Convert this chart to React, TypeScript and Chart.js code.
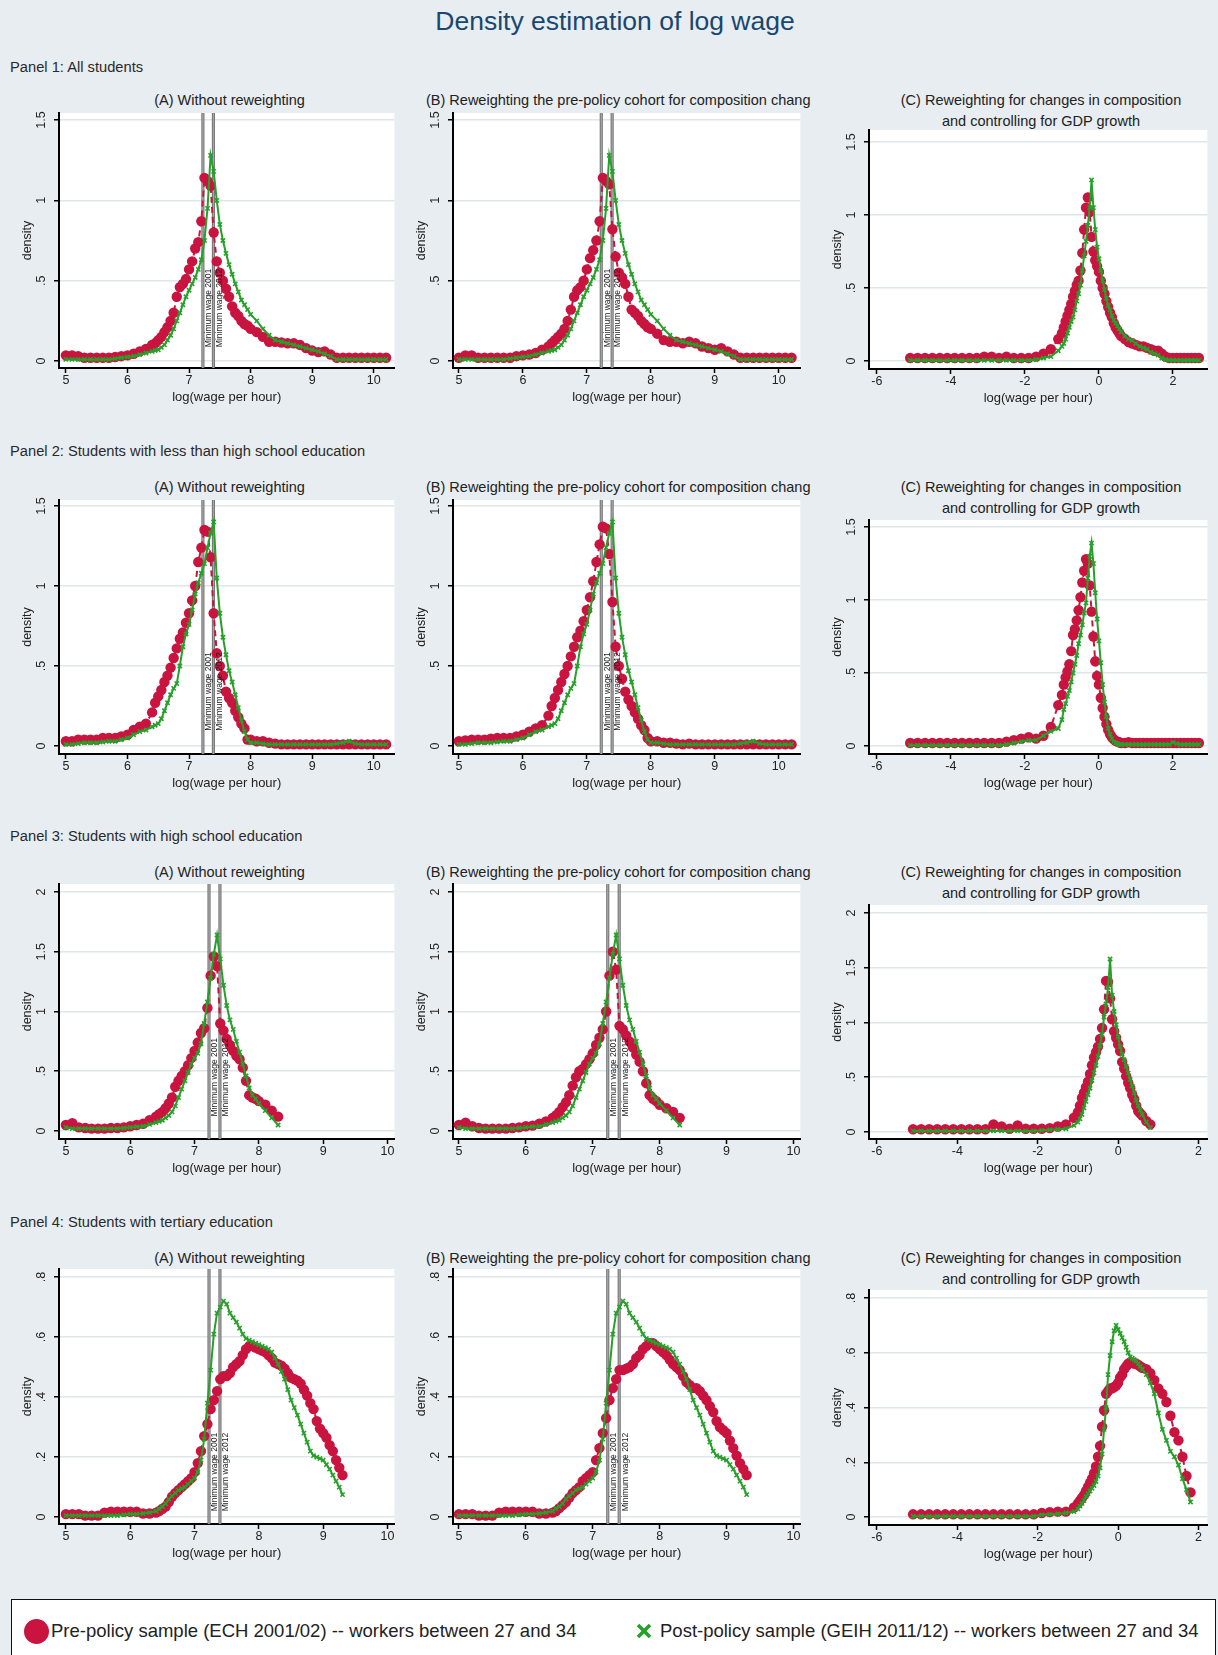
import React, { useEffect, useRef } from "react";
import { Chart, registerables } from "chart.js";

Chart.register(...registerables);

const FONT = '"Liberation Sans", Arial, Helvetica, sans-serif';
Chart.defaults.font.family = FONT;

// ---------------------------------------------------------------------------
// Evaluation grids (log wage per hour)
// ---------------------------------------------------------------------------
const xWage = [
  5.0, 5.1, 5.2, 5.3, 5.4, 5.5, 5.6, 5.7, 5.8, 5.9, 6.0, 6.1, 6.2, 6.3,
  6.4, 6.45, 6.5, 6.55, 6.6, 6.65, 6.7, 6.75, 6.8, 6.85, 6.9, 6.95, 7.0, 7.05, 7.1, 7.15, 7.2, 7.25, 7.3, 7.35, 7.4, 7.45, 7.5, 7.55, 7.6, 7.65, 7.7, 7.75, 7.8, 7.85, 7.9, 7.95, 8.0,
  8.1, 8.2, 8.3, 8.4, 8.5, 8.6, 8.7, 8.8, 8.9, 9.0, 9.1, 9.2, 9.3, 9.4, 9.5, 9.6, 9.7, 9.8, 9.9, 10.0, 10.1, 10.2,
];
const xWageHS = [
  5.0, 5.1, 5.2, 5.3, 5.4, 5.5, 5.6, 5.7, 5.8, 5.9, 6.0, 6.1, 6.2, 6.3,
  6.4, 6.45, 6.5, 6.55, 6.6, 6.65, 6.7, 6.75, 6.8, 6.85, 6.9, 6.95, 7.0, 7.05, 7.1, 7.15, 7.2, 7.25, 7.3, 7.35, 7.4, 7.45, 7.5, 7.55, 7.6, 7.65, 7.7, 7.75, 7.8, 7.85, 7.9, 7.95, 8.0,
  8.1, 8.2, 8.3,
];
const xWageTer = [
  5.0, 5.1, 5.2, 5.3, 5.4, 5.5, 5.6, 5.7, 5.8, 5.9, 6.0, 6.1, 6.2, 6.3,
  6.4, 6.45, 6.5, 6.55, 6.6, 6.65, 6.7, 6.75, 6.8, 6.85, 6.9, 6.95, 7.0, 7.05, 7.1, 7.15, 7.2, 7.25, 7.3, 7.35, 7.4, 7.45, 7.5, 7.55, 7.6, 7.65, 7.7, 7.75, 7.8, 7.85, 7.9, 7.95, 8.0,
  8.05, 8.1, 8.15, 8.2, 8.25, 8.3, 8.35, 8.4, 8.45, 8.5, 8.55, 8.6, 8.65, 8.7, 8.75, 8.8, 8.85, 8.9, 8.95, 9.0, 9.05, 9.1, 9.15, 9.2, 9.25, 9.3,
];
// Grids for the GDP-adjusted log wage (panel C)
const xAdj = [
  -5.1, -4.9, -4.7, -4.5, -4.3, -4.1, -3.9, -3.7, -3.5, -3.3, -3.1, -2.9, -2.7, -2.5, -2.3, -2.1, -1.9, -1.7, -1.5, -1.3, -1.1,
  -1.0, -0.95, -0.9, -0.85, -0.8, -0.75, -0.7, -0.65, -0.6, -0.55, -0.5, -0.45, -0.4, -0.35, -0.3, -0.25, -0.2, -0.15, -0.1, -0.05, 0.0, 0.05, 0.1, 0.15, 0.2, 0.25, 0.3, 0.35, 0.4, 0.45, 0.5, 0.55, 0.6,
  0.7, 0.8, 0.9, 1.0, 1.1, 1.2, 1.3, 1.4, 1.5, 1.6, 1.7, 1.8, 1.9, 2.0, 2.1, 2.2, 2.3, 2.4, 2.5, 2.6, 2.7,
];
const xAdjHS = [
  -5.1, -4.9, -4.7, -4.5, -4.3, -4.1, -3.9, -3.7, -3.5, -3.3, -3.1, -2.9, -2.7, -2.5, -2.3, -2.1, -1.9, -1.7, -1.5, -1.3, -1.1,
  -1.0, -0.95, -0.9, -0.85, -0.8, -0.75, -0.7, -0.65, -0.6, -0.55, -0.5, -0.45, -0.4, -0.35, -0.3, -0.25, -0.2, -0.15, -0.1, -0.05, 0.0, 0.05, 0.1, 0.15, 0.2, 0.25, 0.3, 0.35, 0.4, 0.45, 0.5, 0.55, 0.6,
  0.7, 0.8,
];
const xAdjTer = [
  -5.1, -4.9, -4.7, -4.5, -4.3, -4.1, -3.9, -3.7, -3.5, -3.3, -3.1, -2.9, -2.7, -2.5, -2.3, -2.1, -1.9, -1.7, -1.5, -1.3, -1.1,
  -1.0, -0.95, -0.9, -0.85, -0.8, -0.75, -0.7, -0.65, -0.6, -0.55, -0.5, -0.45, -0.4, -0.35, -0.3, -0.25, -0.2, -0.15, -0.1, -0.05, 0.0, 0.05, 0.1, 0.15, 0.2, 0.25, 0.3, 0.35, 0.4, 0.45, 0.5, 0.55, 0.6,
  0.7, 0.8, 0.9, 1.0, 1.1, 1.2, 1.3, 1.4, 1.5, 1.6, 1.7, 1.8,
];

// ---------------------------------------------------------------------------
// Panel 1: all students
// ---------------------------------------------------------------------------
const preAll = [
  0.035, 0.035, 0.03, 0.02, 0.02, 0.02, 0.02, 0.02, 0.025, 0.03, 0.035, 0.045, 0.06, 0.075,
  0.10, 0.11, 0.13, 0.15, 0.18, 0.21, 0.25, 0.30, 0.40, 0.46, 0.48, 0.51, 0.57, 0.62, 0.70, 0.74, 0.87, 1.14, 1.12, 1.09, 0.80, 0.62, 0.55, 0.50, 0.45, 0.40, 0.34, 0.30, 0.28, 0.25, 0.23, 0.22, 0.20,
  0.18, 0.15, 0.12, 0.12, 0.115, 0.11, 0.11, 0.10, 0.08, 0.065, 0.055, 0.06, 0.04, 0.02, 0.02, 0.02, 0.02, 0.02, 0.02, 0.02, 0.02, 0.02,
];
const preAllReweighted = [
  0.02, 0.035, 0.035, 0.02, 0.02, 0.02, 0.02, 0.02, 0.02, 0.03, 0.035, 0.04, 0.05, 0.07,
  0.09, 0.11, 0.13, 0.15, 0.17, 0.20, 0.25, 0.32, 0.40, 0.44, 0.46, 0.50, 0.57, 0.64, 0.69, 0.75, 0.87, 1.14, 1.12, 1.10, 0.82, 0.65, 0.55, 0.52, 0.48, 0.40, 0.32, 0.30, 0.28, 0.25, 0.23, 0.21, 0.20,
  0.17, 0.13, 0.12, 0.12, 0.11, 0.12, 0.11, 0.09, 0.08, 0.07, 0.08, 0.06, 0.04, 0.02, 0.02, 0.02, 0.02, 0.02, 0.02, 0.02, 0.02, 0.02,
];
const postAll = [
  0.01, 0.01, 0.01, 0.01, 0.01, 0.01, 0.01, 0.01, 0.015, 0.02, 0.025, 0.03, 0.04, 0.05,
  0.06, 0.065, 0.07, 0.085, 0.10, 0.13, 0.16, 0.20, 0.25, 0.30, 0.35, 0.40, 0.44, 0.48, 0.52, 0.57, 0.63, 0.75, 0.95, 1.28, 1.18, 1.00, 0.85, 0.75, 0.67, 0.60, 0.54, 0.48, 0.43, 0.38, 0.35, 0.32, 0.29,
  0.25, 0.20, 0.16, 0.13, 0.12, 0.11, 0.10, 0.09, 0.08, 0.07, 0.06, 0.045, 0.03, 0.01, 0.01, 0.01, 0.01, 0.01, 0.01, 0.01, 0.01, 0.01,
];
const preAllAdj = [
  0.02, 0.02, 0.02, 0.02, 0.02, 0.02, 0.02, 0.02, 0.02, 0.02, 0.03, 0.03, 0.02, 0.03, 0.02, 0.02, 0.02, 0.03, 0.05, 0.08, 0.15,
  0.19, 0.23, 0.27, 0.31, 0.35, 0.39, 0.44, 0.48, 0.52, 0.55, 0.62, 0.74, 0.90, 1.05, 1.12, 1.02, 0.85, 0.75, 0.69, 0.65, 0.61, 0.55, 0.50, 0.46, 0.41, 0.37, 0.33, 0.30, 0.26, 0.23, 0.21, 0.19, 0.17,
  0.15, 0.13, 0.12, 0.11, 0.10, 0.10, 0.09, 0.08, 0.07, 0.07, 0.05, 0.03, 0.02, 0.02, 0.02, 0.02, 0.02, 0.02, 0.02, 0.02, 0.02,
];
const postAllAdj = [
  0.005, 0.005, 0.005, 0.005, 0.005, 0.005, 0.005, 0.005, 0.005, 0.005, 0.005, 0.005, 0.005, 0.005, 0.005, 0.005, 0.005, 0.01, 0.02, 0.03, 0.07,
  0.10, 0.12, 0.15, 0.19, 0.23, 0.27, 0.30, 0.35, 0.41, 0.46, 0.52, 0.62, 0.72, 0.82, 0.93, 1.05, 1.24, 1.05, 0.90, 0.78, 0.70, 0.62, 0.55, 0.49, 0.43, 0.38, 0.35, 0.31, 0.28, 0.26, 0.24, 0.22, 0.20,
  0.17, 0.15, 0.14, 0.12, 0.10, 0.09, 0.08, 0.06, 0.05, 0.04, 0.02, 0.01, 0.005, 0.005, 0.005, 0.005, 0.005, 0.005, 0.005, 0.005, 0.005,
];

// ---------------------------------------------------------------------------
// Panel 2: less than high school
// ---------------------------------------------------------------------------
const preLHS = [
  0.03, 0.03, 0.04, 0.04, 0.04, 0.04, 0.05, 0.05, 0.05, 0.06, 0.07, 0.10, 0.12, 0.14,
  0.21, 0.27, 0.31, 0.35, 0.40, 0.44, 0.49, 0.55, 0.61, 0.67, 0.71, 0.77, 0.83, 0.91, 1.00, 1.15, 1.24, 1.35, 1.34, 1.18, 0.83, 0.58, 0.50, 0.44, 0.34, 0.30, 0.27, 0.22, 0.18, 0.14, 0.11, 0.04, 0.04,
  0.03, 0.03, 0.02, 0.015, 0.01, 0.01, 0.01, 0.01, 0.01, 0.01, 0.01, 0.01, 0.01, 0.01, 0.01, 0.01, 0.01, 0.01, 0.01, 0.01, 0.01, 0.01,
];
const preLHSReweighted = [
  0.03, 0.035, 0.04, 0.04, 0.04, 0.045, 0.05, 0.05, 0.05, 0.06, 0.07, 0.09, 0.11, 0.13,
  0.19, 0.25, 0.30, 0.35, 0.40, 0.45, 0.50, 0.56, 0.62, 0.68, 0.72, 0.78, 0.85, 0.93, 1.03, 1.15, 1.26, 1.37, 1.36, 1.20, 0.90, 0.62, 0.50, 0.42, 0.34, 0.29, 0.25, 0.21, 0.17, 0.13, 0.10, 0.05, 0.03,
  0.03, 0.02, 0.02, 0.015, 0.01, 0.015, 0.01, 0.01, 0.01, 0.01, 0.01, 0.01, 0.01, 0.01, 0.01, 0.01, 0.01, 0.01, 0.01, 0.01, 0.01, 0.01,
];
const postLHS = [
  0.01, 0.01, 0.015, 0.02, 0.02, 0.02, 0.025, 0.03, 0.03, 0.04, 0.05, 0.07, 0.09, 0.10,
  0.12, 0.13, 0.14, 0.17, 0.22, 0.27, 0.32, 0.36, 0.39, 0.50, 0.62, 0.70, 0.76, 0.85, 0.95, 1.02, 1.08, 1.14, 1.24, 1.33, 1.40, 1.05, 0.83, 0.68, 0.57, 0.47, 0.40, 0.32, 0.24, 0.16, 0.09, 0.04, 0.02,
  0.02, 0.015, 0.01, 0.01, 0.01, 0.01, 0.01, 0.01, 0.01, 0.01, 0.01, 0.01, 0.01, 0.015, 0.02, 0.03, 0.015, 0.01, 0.01, 0.01, 0.01, 0.01,
];
const preLHSAdj = [
  0.02, 0.02, 0.02, 0.02, 0.02, 0.02, 0.02, 0.02, 0.02, 0.02, 0.02, 0.02, 0.02, 0.03, 0.04, 0.05, 0.06, 0.05, 0.07, 0.13, 0.28,
  0.35, 0.42, 0.47, 0.51, 0.56, 0.65, 0.76, 0.80, 0.86, 0.93, 1.02, 1.12, 1.20, 1.28, 1.25, 1.10, 0.92, 0.75, 0.58, 0.48, 0.42, 0.33, 0.26, 0.20, 0.15, 0.11, 0.08, 0.06, 0.045, 0.035, 0.03, 0.025, 0.02,
  0.02, 0.025, 0.02, 0.02, 0.02, 0.02, 0.02, 0.02, 0.02, 0.02, 0.02, 0.02, 0.02, 0.02, 0.02, 0.02, 0.02, 0.02, 0.02, 0.02, 0.02,
];
const postLHSAdj = [
  0.005, 0.005, 0.005, 0.005, 0.005, 0.005, 0.005, 0.005, 0.005, 0.005, 0.005, 0.005, 0.005, 0.01, 0.02, 0.03, 0.04, 0.04, 0.07, 0.10, 0.12,
  0.18, 0.25, 0.29, 0.34, 0.38, 0.44, 0.50, 0.56, 0.62, 0.70, 0.76, 0.83, 0.91, 0.98, 1.15, 1.30, 1.39, 1.25, 1.05, 0.87, 0.72, 0.57, 0.42, 0.30, 0.20, 0.12, 0.08, 0.05, 0.03, 0.02, 0.015, 0.01, 0.01,
  0.01, 0.01, 0.01, 0.01, 0.01, 0.01, 0.01, 0.01, 0.01, 0.01, 0.01, 0.01, 0.01, 0.025, 0.015, 0.01, 0.01, 0.01, 0.01, 0.01, 0.01,
];

// ---------------------------------------------------------------------------
// Panel 3: high school
// ---------------------------------------------------------------------------
const preHS = [
  0.05, 0.065, 0.03, 0.025, 0.02, 0.02, 0.02, 0.025, 0.025, 0.03, 0.04, 0.05, 0.06, 0.09,
  0.12, 0.14, 0.16, 0.19, 0.23, 0.28, 0.37, 0.42, 0.46, 0.50, 0.55, 0.61, 0.67, 0.74, 0.82, 0.86, 1.03, 1.30, 1.46, 1.38, 0.90, 0.84, 0.77, 0.72, 0.67, 0.63, 0.60, 0.53, 0.42, 0.30, 0.28, 0.27, 0.25,
  0.22, 0.17, 0.12,
];
const preHSReweighted = [
  0.05, 0.07, 0.04, 0.025, 0.02, 0.02, 0.02, 0.02, 0.025, 0.03, 0.04, 0.045, 0.06, 0.08,
  0.11, 0.13, 0.16, 0.20, 0.24, 0.30, 0.38, 0.45, 0.50, 0.52, 0.56, 0.60, 0.65, 0.72, 0.78, 0.85, 1.00, 1.30, 1.50, 1.35, 0.88, 0.85, 0.80, 0.75, 0.70, 0.64, 0.58, 0.50, 0.40, 0.30, 0.27, 0.25, 0.22,
  0.19, 0.16, 0.11,
];
const postHS = [
  0.03, 0.02, 0.02, 0.02, 0.02, 0.02, 0.02, 0.02, 0.02, 0.025, 0.03, 0.035, 0.04, 0.055,
  0.07, 0.08, 0.09, 0.11, 0.13, 0.16, 0.21, 0.28, 0.35, 0.42, 0.49, 0.56, 0.61, 0.65, 0.73, 0.90, 1.08, 1.28, 1.48, 1.64, 1.44, 1.22, 1.05, 0.93, 0.85, 0.75, 0.66, 0.56, 0.46, 0.36, 0.30, 0.27, 0.23,
  0.17, 0.11, 0.05,
];
const preHSAdj = [
  0.025, 0.025, 0.025, 0.025, 0.025, 0.025, 0.025, 0.025, 0.025, 0.025, 0.07, 0.05, 0.03, 0.06, 0.03, 0.03, 0.03, 0.035, 0.05, 0.07, 0.13,
  0.18, 0.24, 0.31, 0.36, 0.41, 0.46, 0.53, 0.61, 0.68, 0.73, 0.78, 0.85, 0.95, 1.12, 1.38, 1.37, 1.22, 1.03, 0.92, 0.86, 0.80, 0.74, 0.64, 0.58, 0.51, 0.45, 0.40, 0.34, 0.30, 0.24, 0.19, 0.17, 0.15,
  0.10, 0.07,
];
const postHSAdj = [
  0.01, 0.01, 0.01, 0.01, 0.01, 0.01, 0.01, 0.01, 0.01, 0.01, 0.01, 0.01, 0.01, 0.01, 0.01, 0.01, 0.015, 0.02, 0.025, 0.03, 0.06,
  0.09, 0.12, 0.16, 0.22, 0.28, 0.34, 0.40, 0.47, 0.54, 0.61, 0.69, 0.79, 0.89, 1.05, 1.17, 1.32, 1.58, 1.25, 1.10, 0.98, 0.87, 0.78, 0.71, 0.66, 0.60, 0.54, 0.48, 0.42, 0.36, 0.29, 0.24, 0.20, 0.16,
  0.09, 0.04,
];

// ---------------------------------------------------------------------------
// Panel 4: tertiary
// ---------------------------------------------------------------------------
const preTer = [
  0.01, 0.01, 0.01, 0.005, 0.005, 0.005, 0.015, 0.018, 0.018, 0.018, 0.018, 0.018, 0.012, 0.012,
  0.015, 0.02, 0.028, 0.035, 0.05, 0.068, 0.08, 0.09, 0.10, 0.11, 0.12, 0.13, 0.15, 0.18, 0.22, 0.27, 0.31, 0.36, 0.39, 0.42, 0.46, 0.47, 0.47, 0.48, 0.50, 0.51, 0.52, 0.54, 0.56, 0.57, 0.57, 0.565, 0.56,
  0.555, 0.55, 0.54, 0.53, 0.515, 0.51, 0.505, 0.495, 0.48, 0.465, 0.46, 0.455, 0.445, 0.425, 0.405, 0.38, 0.36, 0.32, 0.295, 0.28, 0.265, 0.24, 0.22, 0.19, 0.165, 0.14,
];
const preTerReweighted = [
  0.01, 0.01, 0.01, 0.005, 0.005, 0.005, 0.015, 0.018, 0.018, 0.018, 0.018, 0.018, 0.012, 0.012,
  0.015, 0.02, 0.03, 0.04, 0.05, 0.065, 0.08, 0.09, 0.10, 0.12, 0.13, 0.14, 0.15, 0.19, 0.23, 0.28, 0.33, 0.39, 0.43, 0.46, 0.49, 0.49, 0.495, 0.50, 0.51, 0.53, 0.54, 0.56, 0.57, 0.58, 0.58, 0.57, 0.56,
  0.55, 0.54, 0.525, 0.51, 0.50, 0.49, 0.47, 0.45, 0.44, 0.43, 0.43, 0.42, 0.405, 0.39, 0.37, 0.35, 0.32, 0.30, 0.29, 0.28, 0.255, 0.23, 0.205, 0.18, 0.16, 0.14,
];
const postTer = [
  0.005, 0.005, 0.005, 0.005, 0.005, 0.005, 0.005, 0.005, 0.005, 0.008, 0.01, 0.01, 0.012, 0.015,
  0.02, 0.028, 0.035, 0.045, 0.06, 0.07, 0.08, 0.09, 0.095, 0.10, 0.11, 0.12, 0.13, 0.15, 0.19, 0.26, 0.38, 0.49, 0.61, 0.68, 0.70, 0.72, 0.71, 0.68, 0.665, 0.65, 0.63, 0.61, 0.595, 0.59, 0.585, 0.58, 0.575,
  0.57, 0.565, 0.56, 0.55, 0.53, 0.51, 0.485, 0.46, 0.425, 0.39, 0.365, 0.34, 0.31, 0.28, 0.25, 0.22, 0.205, 0.20, 0.195, 0.19, 0.175, 0.16, 0.14, 0.12, 0.10, 0.075,
];
const preTerAdj = [
  0.01, 0.01, 0.01, 0.01, 0.01, 0.01, 0.01, 0.01, 0.01, 0.01, 0.01, 0.01, 0.01, 0.01, 0.01, 0.01, 0.015, 0.018, 0.02, 0.02, 0.035,
  0.05, 0.06, 0.07, 0.08, 0.095, 0.11, 0.125, 0.14, 0.16, 0.185, 0.22, 0.26, 0.33, 0.39, 0.45, 0.46, 0.47, 0.47, 0.475, 0.48, 0.49, 0.51, 0.52, 0.54, 0.55, 0.56, 0.565, 0.565, 0.56, 0.56, 0.555, 0.55, 0.545,
  0.54, 0.525, 0.50, 0.47, 0.45, 0.42, 0.37, 0.31, 0.28, 0.22, 0.15, 0.09,
];
const postTerAdj = [
  0.003, 0.003, 0.003, 0.003, 0.003, 0.003, 0.003, 0.003, 0.003, 0.003, 0.003, 0.003, 0.003, 0.003, 0.003, 0.003, 0.008, 0.01, 0.012, 0.015, 0.02,
  0.03, 0.04, 0.05, 0.06, 0.075, 0.085, 0.095, 0.105, 0.115, 0.13, 0.15, 0.18, 0.23, 0.32, 0.40, 0.52, 0.59, 0.64, 0.68, 0.70, 0.685, 0.67, 0.655, 0.64, 0.62, 0.60, 0.585, 0.58, 0.575, 0.57, 0.56, 0.55, 0.54,
  0.52, 0.49, 0.45, 0.38, 0.32, 0.28, 0.24, 0.22, 0.19, 0.14, 0.10, 0.055,
];

// Reference lines: log of the hourly minimum wage
const minWageLines = [
  { value: 7.225, label: "Minimum wage 2001" },
  { value: 7.395, label: "Minimum wage 2012" },
];

const wageTicks = [5, 6, 7, 8, 9, 10];
const adjTicks = [-6, -4, -2, 0, 2];
const densityTicks15 = [0, 0.5, 1, 1.5];
const densityTicks2 = [0, 0.5, 1, 1.5, 2];
const densityTicks08 = [0, 0.2, 0.4, 0.6, 0.8];

const panelHeadings = [
  "Panel 1: All students",
  "Panel 2: Students with less than high school education",
  "Panel 3: Students with high school education",
  "Panel 4: Students with tertiary education",
];
const titleA = "(A) Without reweighting";
const titleB = "(B) Reweighting the pre-policy cohort for composition chang";
const titleC = ["(C) Reweighting for changes in composition", "and controlling for GDP growth"];
const legendPre = "Pre-policy sample (ECH 2001/02) -- workers between 27 and 34";
const legendPost = "Post-policy sample (GEIH 2011/12) -- workers between 27 and 34";

// ---------------------------------------------------------------------------
// Styling and layout
// ---------------------------------------------------------------------------
const PRE_COLOR = "#c8143e";
const POST_COLOR = "#27a02a";
const PAGE_BG = "#e7edf1";
const GRID_COLOR = "#dfe6ea";
const TEXT = "#222222";

const YW = 44; // width reserved for the y axis (title + labels + ticks)
const XH = 41; // height reserved for the x axis
const PT = 10; // headroom above the plot region

const COLUMNS = {
  A: { axisX: 59, right: 400 },
  B: { axisX: 453, right: 806 },
  C: { axisX: 869, right: 1213 },
};

type Col = "A" | "B" | "C";
type PanelSpec = {
  id: string;
  col: Col;
  x: number[];
  pre: number[];
  post: number[];
  top: number;
  axisY: number;
  xRange: [number, number];
  yRange: [number, number];
  xTicks: number[];
  yTicks: number[];
  yTickPad: number;
  labelY?: number;
};

const ROW_TOPS_AB = [113, 500, 884, 1269];
const ROW_AXES_AB = [368, 754, 1139, 1524];
const ROW_TOPS_C = [130, 520, 905, 1290];
const ROW_AXES_C = [369, 754, 1139, 1525];
const ROW_TITLE_Y = [100, 487, 872, 1258];
const ROW_HEADING_Y = [67, 451, 836, 1222];
const LABEL_Y = [0.33, 0.34, 0.45, 0.15];

const X_A12: [number, number] = [4.888, 10.335];
const X_B12: [number, number] = [4.908, 10.338];
const X_C12: [number, number] = [-6.213, 2.93];
const X_A34: [number, number] = [4.893, 10.107];
const X_B34: [number, number] = [4.912, 10.103];
const X_C34: [number, number] = [-6.196, 2.22];

const panels: PanelSpec[] = [
  { id: "1A", col: "A", x: xWage, pre: preAll, post: postAll, top: ROW_TOPS_AB[0], axisY: ROW_AXES_AB[0], xRange: X_A12, yRange: [-0.0436, 1.5436], xTicks: wageTicks, yTicks: densityTicks15, yTickPad: 3.5, labelY: LABEL_Y[0] },
  { id: "1B", col: "B", x: xWage, pre: preAllReweighted, post: postAll, top: ROW_TOPS_AB[0], axisY: ROW_AXES_AB[0], xRange: X_B12, yRange: [-0.0436, 1.5436], xTicks: wageTicks, yTicks: densityTicks15, yTickPad: 3.5, labelY: LABEL_Y[0] },
  { id: "1C", col: "C", x: xAdj, pre: preAllAdj, post: postAllAdj, top: ROW_TOPS_C[0], axisY: ROW_AXES_C[0], xRange: X_C12, yRange: [-0.055, 1.582], xTicks: adjTicks, yTicks: densityTicks15, yTickPad: 3.5 },
  { id: "2A", col: "A", x: xWage, pre: preLHS, post: postLHS, top: ROW_TOPS_AB[1], axisY: ROW_AXES_AB[1], xRange: X_A12, yRange: [-0.05, 1.5375], xTicks: wageTicks, yTicks: densityTicks15, yTickPad: 3.5, labelY: LABEL_Y[1] },
  { id: "2B", col: "B", x: xWage, pre: preLHSReweighted, post: postLHS, top: ROW_TOPS_AB[1], axisY: ROW_AXES_AB[1], xRange: X_B12, yRange: [-0.05, 1.5375], xTicks: wageTicks, yTicks: densityTicks15, yTickPad: 3.5, labelY: LABEL_Y[1] },
  { id: "2C", col: "C", x: xAdj, pre: preLHSAdj, post: postLHSAdj, top: ROW_TOPS_C[1], axisY: ROW_AXES_C[1], xRange: X_C12, yRange: [-0.055, 1.548], xTicks: adjTicks, yTicks: densityTicks15, yTickPad: 3.5 },
  { id: "3A", col: "A", x: xWageHS, pre: preHS, post: postHS, top: ROW_TOPS_AB[2], axisY: ROW_AXES_AB[2], xRange: X_A34, yRange: [-0.067, 2.067], xTicks: wageTicks, yTicks: densityTicks2, yTickPad: 3.5, labelY: LABEL_Y[2] },
  { id: "3B", col: "B", x: xWageHS, pre: preHSReweighted, post: postHS, top: ROW_TOPS_AB[2], axisY: ROW_AXES_AB[2], xRange: X_B34, yRange: [-0.067, 2.067], xTicks: wageTicks, yTicks: densityTicks2, yTickPad: 3.5, labelY: LABEL_Y[2] },
  { id: "3C", col: "C", x: xAdjHS, pre: preHSAdj, post: postHSAdj, top: ROW_TOPS_C[2], axisY: ROW_AXES_C[2], xRange: X_C34, yRange: [-0.064, 2.073], xTicks: adjTicks, yTicks: densityTicks2, yTickPad: 3.5 },
  { id: "4A", col: "A", x: xWageTer, pre: preTer, post: postTer, top: ROW_TOPS_AB[3], axisY: ROW_AXES_AB[3], xRange: X_A34, yRange: [-0.023, 0.827], xTicks: wageTicks, yTicks: densityTicks08, yTickPad: 7, labelY: LABEL_Y[3] },
  { id: "4B", col: "B", x: xWageTer, pre: preTerReweighted, post: postTer, top: ROW_TOPS_AB[3], axisY: ROW_AXES_AB[3], xRange: X_B34, yRange: [-0.023, 0.827], xTicks: wageTicks, yTicks: densityTicks08, yTickPad: 7, labelY: LABEL_Y[3] },
  { id: "4C", col: "C", x: xAdjTer, pre: preTerAdj, post: postTerAdj, top: ROW_TOPS_C[3], axisY: ROW_AXES_C[3], xRange: X_C34, yRange: [-0.029, 0.829], xTicks: adjTicks, yTicks: densityTicks08, yTickPad: 7 },
];

function fmtTick(v: number): string {
  if (v === 0) return "0";
  const s = String(Math.round(v * 100) / 100);
  return s.replace(/^0\./, ".").replace(/^-0\./, "-.");
}

function toPoints(xs: number[], ys: number[]) {
  const n = Math.min(xs.length, ys.length);
  const out: { x: number; y: number }[] = [];
  for (let i = 0; i < n; i++) out.push({ x: xs[i], y: ys[i] });
  return out;
}

// White plot region behind the grid and the curves
const plotRegion = {
  id: "plotRegion",
  beforeDraw(chart: any) {
    const { ctx, chartArea: a } = chart;
    ctx.save();
    ctx.fillStyle = "#ffffff";
    ctx.fillRect(a.left, a.top, a.right - a.left, a.bottom - a.top);
    ctx.restore();
  },
};

// Vertical minimum-wage lines with their rotated labels
function minWagePlugin(labelY: number) {
  return {
    id: "minWage",
    beforeDatasetsDraw(chart: any) {
      const { ctx, chartArea: a, scales } = chart;
      ctx.save();
      for (const m of minWageLines) {
        const px = scales.x.getPixelForValue(m.value);
        ctx.beginPath();
        ctx.moveTo(px, a.top);
        ctx.lineTo(px, a.bottom);
        ctx.strokeStyle = "#5e5e5e";
        ctx.lineWidth = 3;
        ctx.stroke();
        ctx.beginPath();
        ctx.moveTo(px, a.top);
        ctx.lineTo(px, a.bottom);
        ctx.strokeStyle = "#a6a6a6";
        ctx.lineWidth = 1.5;
        ctx.stroke();
      }
      ctx.restore();
    },
    afterDatasetsDraw(chart: any) {
      const { ctx, scales } = chart;
      ctx.save();
      ctx.fillStyle = "#1c1c1c";
      ctx.font = `8.5px ${FONT}`;
      ctx.textAlign = "center";
      ctx.textBaseline = "middle";
      for (const m of minWageLines) {
        const px = scales.x.getPixelForValue(m.value) + 6;
        const py = scales.y.getPixelForValue(labelY);
        ctx.save();
        ctx.translate(px, py);
        ctx.rotate(-Math.PI / 2);
        ctx.fillText(m.label, 0, 0);
        ctx.restore();
      }
      ctx.restore();
    },
  };
}

function DensityPanel({ spec }: { spec: PanelSpec }) {
  const ref = useRef<HTMLCanvasElement | null>(null);
  const col = COLUMNS[spec.col];
  const left = col.axisX - YW;
  const width = col.right - left;
  const top = spec.top - PT;
  const height = PT + (spec.axisY - spec.top) + XH;

  useEffect(() => {
    if (!ref.current) return;
    const plugins: any[] = [plotRegion];
    if (spec.labelY !== undefined) plugins.push(minWagePlugin(spec.labelY));
    const chart = new Chart(ref.current, {
      type: "line",
      data: {
        datasets: [
          {
            label: legendPost,
            data: toPoints(spec.x, spec.post),
            borderColor: POST_COLOR,
            backgroundColor: POST_COLOR,
            borderWidth: 2,
            pointStyle: "crossRot",
            pointRadius: 3,
            pointBorderWidth: 1.6,
            pointBorderColor: POST_COLOR,
            tension: 0,
            order: 0,
          },
          {
            label: legendPre,
            data: toPoints(spec.x, spec.pre),
            borderColor: PRE_COLOR,
            backgroundColor: PRE_COLOR,
            borderWidth: 2,
            borderDash: [6, 4],
            pointStyle: "circle",
            pointRadius: 5.2,
            pointBorderWidth: 0,
            pointBackgroundColor: PRE_COLOR,
            pointBorderColor: PRE_COLOR,
            tension: 0,
            order: 1,
          },
        ],
      },
      options: {
        responsive: false,
        animation: false,
        events: [],
        layout: { padding: { top: PT, left: 0, right: 0, bottom: 0 } },
        plugins: {
          legend: { display: false },
          tooltip: { enabled: false },
          title: { display: false },
        },
        scales: {
          x: {
            type: "linear",
            min: spec.xRange[0],
            max: spec.xRange[1],
            afterBuildTicks: (s: any) => {
              s.ticks = spec.xTicks.map((v) => ({ value: v }));
            },
            afterFit: (s: any) => {
              s.height = XH;
              s.paddingLeft = 0;
              s.paddingRight = 0;
            },
            ticks: {
              autoSkip: false,
              minRotation: 0,
              maxRotation: 0,
              padding: 0,
              color: TEXT,
              font: { size: 12.5, family: FONT },
              callback: (v: any) => fmtTick(Number(v)),
            },
            grid: {
              drawOnChartArea: false,
              drawTicks: true,
              tickLength: 5,
              tickColor: "#000",
              tickWidth: 1.5,
            },
            border: { display: true, color: "#000", width: 2 },
            title: {
              display: true,
              text: "log(wage per hour)",
              color: TEXT,
              font: { size: 13, family: FONT },
              padding: { top: 0, bottom: 4 },
            },
          },
          y: {
            type: "linear",
            min: spec.yRange[0],
            max: spec.yRange[1],
            afterBuildTicks: (s: any) => {
              s.ticks = spec.yTicks.map((v) => ({ value: v }));
            },
            afterFit: (s: any) => {
              s.width = YW;
              s.paddingTop = 0;
              s.paddingBottom = 0;
            },
            ticks: {
              autoSkip: false,
              minRotation: 90,
              maxRotation: 90,
              crossAlign: "center",
              padding: spec.yTickPad,
              color: TEXT,
              font: { size: 12.5, family: FONT },
              callback: (v: any) => fmtTick(Number(v)),
            },
            grid: {
              color: GRID_COLOR,
              lineWidth: 1.5,
              drawTicks: true,
              tickLength: 5,
              tickColor: "#000",
              tickWidth: 1.5,
            },
            border: { display: true, color: "#000", width: 2 },
            title: {
              display: true,
              text: "density",
              color: TEXT,
              font: { size: 12.5, family: FONT },
              padding: { top: 5.5, bottom: 0 },
            },
          },
        },
      } as any,
      plugins,
    });
    return () => chart.destroy();
  }, [spec]);

  return (
    <canvas
      ref={ref}
      width={width}
      height={height}
      style={{ position: "absolute", left, top, width, height }}
    />
  );
}

function SubTitle({ col, y }: { col: Col; y: number }) {
  const c = COLUMNS[col];
  const cx = (c.axisX + c.right) / 2;
  if (col === "C") {
    return (
      <div
        style={{
          position: "absolute", left: cx - 300, width: 600, top: y - 10.5,
          textAlign: "center", fontSize: 14.5, lineHeight: "21px", color: TEXT, whiteSpace: "nowrap",
        }}
      >
        {titleC[0]}
        <br />
        {titleC[1]}
      </div>
    );
  }
  if (col === "A") {
    return (
      <div
        style={{
          position: "absolute", left: cx - 300, width: 600, top: y - 10,
          textAlign: "center", fontSize: 14.5, lineHeight: "20px", color: TEXT, whiteSpace: "nowrap",
        }}
      >
        {titleA}
      </div>
    );
  }
  // the long B title runs to the panel edge and is cut there
  return (
    <div style={{ position: "absolute", left: 420, width: 398, top: y - 10, height: 20, overflow: "hidden" }}>
      <div
        style={{
          position: "absolute", left: 6, top: 0, fontSize: 14.5, lineHeight: "20px",
          color: TEXT, whiteSpace: "nowrap",
        }}
      >
        {titleB}
      </div>
    </div>
  );
}

export default function App() {
  return (
    <div
      style={{
        position: "absolute", left: 0, top: 0, width: 1218, height: 1655,
        background: PAGE_BG, overflow: "hidden", fontFamily: FONT,
      }}
    >
      <div
        style={{
          position: "absolute", left: 0, width: 1230, top: 5, textAlign: "center",
          fontSize: 26.5, lineHeight: "32px", color: "#1a476f",
        }}
      >
        Density estimation of log wage
      </div>

      {panelHeadings.map((h, i) => (
        <div
          key={h}
          style={{
            position: "absolute", left: 10, top: ROW_HEADING_Y[i] - 9, fontSize: 14.7,
            lineHeight: "18px", color: "#2a2a2a", whiteSpace: "nowrap",
          }}
        >
          {h}
        </div>
      ))}

      {ROW_TITLE_Y.map((y, i) => (
        <React.Fragment key={`t${i}`}>
          <SubTitle col="A" y={y} />
          <SubTitle col="B" y={y} />
          <SubTitle col="C" y={y} />
        </React.Fragment>
      ))}

      {panels.map((p) => (
        <DensityPanel key={p.id} spec={p} />
      ))}

      {/* shared legend */}
      <div
        style={{
          position: "absolute", left: 11, top: 1599, width: 1205, height: 90,
          border: "1.5px solid #111", background: "#ffffff", boxSizing: "border-box",
        }}
      />
      <div
        style={{
          position: "absolute", left: 24, top: 1619, width: 25, height: 25,
          borderRadius: "50%", background: PRE_COLOR,
        }}
      />
      <div
        style={{
          position: "absolute", left: 51, top: 1620, fontSize: 18.5, lineHeight: "22px",
          color: TEXT, whiteSpace: "nowrap",
        }}
      >
        {legendPre}
      </div>
      <svg style={{ position: "absolute", left: 636, top: 1623 }} width={16} height={16}>
        <line x1={2} y1={2} x2={14} y2={14} stroke={POST_COLOR} strokeWidth={3.5} />
        <line x1={14} y1={2} x2={2} y2={14} stroke={POST_COLOR} strokeWidth={3.5} />
      </svg>
      <div
        style={{
          position: "absolute", left: 660, top: 1620, fontSize: 18.5, lineHeight: "22px",
          color: TEXT, whiteSpace: "nowrap",
        }}
      >
        {legendPost}
      </div>
    </div>
  );
}
